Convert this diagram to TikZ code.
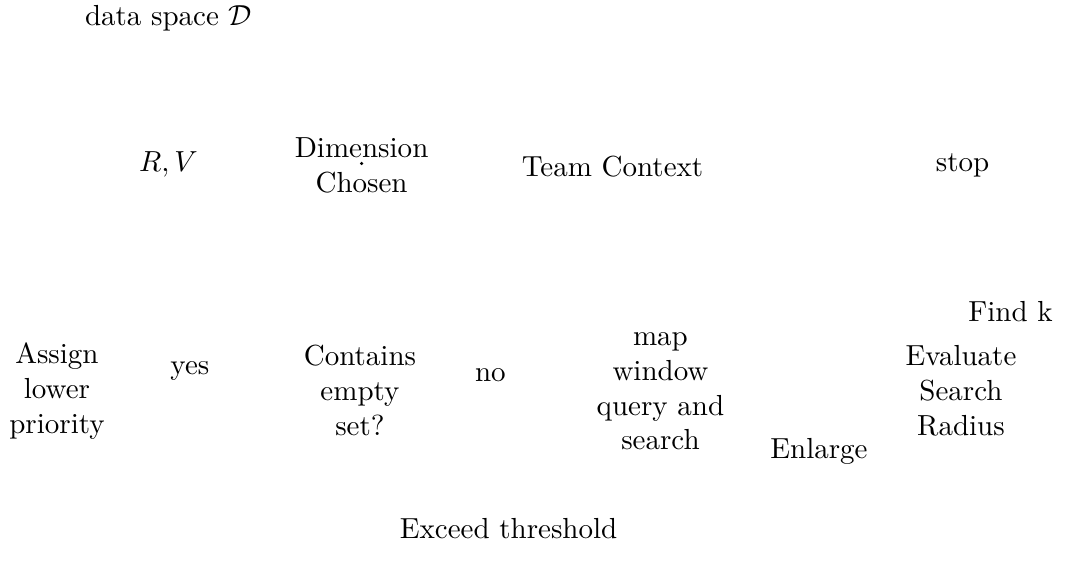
\documentclass[tikz,border=0pt]{standalone}
\begin{document}
\begin{tikzpicture}[lbl/.style={align=center, inner sep=2pt}]
\useasboundingbox (0,0) rectangle (12.9,6.82);
\node[lbl] (data) at (2.04,6.60) {data space $\mathcal{D}$};
\node[lbl] (rv) at (2.04,4.83) {$R,V$};
\node[lbl] (dim) at (4.38,4.82) {Dimension\\Chosen};
\fill (4.38,4.84) circle (0.6pt);
\node[lbl] (team) at (7.42,4.80) {Team Context};
\node[lbl] (stop) at (11.66,4.82) {stop};
\node[lbl] (findk) at (12.24,3.05) {Find k};
\node[lbl] (assign) at (0.69,2.08) {Assign\\lower\\priority};
\node[lbl] (yes) at (2.30,2.33) {yes};
\node[lbl] (contains) at (4.36,2.09) {Contains\\empty\\set?};
\node[lbl] (no) at (5.94,2.27) {no};
\node[lbl] (map) at (8.0,2.08) {map\\window\\query and\\search};
\node[lbl] (enlarge) at (9.92,1.35) {Enlarge};
\node[lbl] (eval) at (11.64,2.09) {Evaluate\\Search\\Radius};
\node[lbl] (exceed) at (6.16,0.42) {Exceed threshold};
\end{tikzpicture}
\end{document}
